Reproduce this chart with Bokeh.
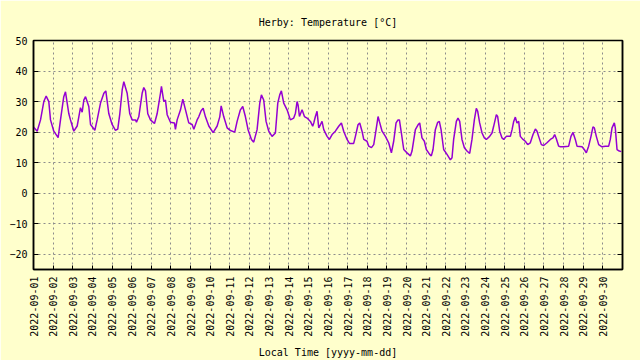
from datetime import datetime, timedelta
import calendar
from bokeh.plotting import figure
from bokeh.models import DatetimeTickFormatter, FixedTicker, LinearAxis
from bokeh.embed import file_html
from bokeh.resources import INLINE

START = datetime(2022, 9, 1)
N_DAYS = 30

# hours since 2022-09-01 00:00 local time
hours = [
    0, 4.5, 8.6, 12.6, 15.5, 18.7, 20.8, 24.8, 30.1,
    33, 37, 39.1, 43.2, 45.2, 49.3, 53.4,
    55.4, 57.4, 59.5, 61.5, 63.6, 67.6, 69.7, 75,
    77.8, 81.9, 86, 88.4, 92.1, 96.1, 100.2, 103,
    105.5, 108.4, 110.4, 114.5, 117.7, 120.6, 124.7, 125.9,
    128.7, 132.8, 134.8, 136.9, 139.7, 143, 147.9,
    151.1, 155.2, 156.4, 159.3, 161.3, 163.4, 167.4, 172.3, 173.5,
    175.6, 179.7, 182.5, 185.8, 189.8, 193.9, 196,
    200, 202, 204.9, 207.4, 210.2, 214.3, 219.6,
    224.5, 227.7, 229.4, 232.6, 236.7, 240.8,
    246, 248.9, 252.9, 255.8, 259, 262.3, 266.4, 269.2,
    273.3, 276.6, 278.6, 281.4, 284.3, 287.6, 291.6,
    295.7, 298.6, 301, 303, 305.9, 310, 314, 318.1, 320.2, 322.2, 323.4,
    325.1, 328.3, 331.2, 334.4, 338.5, 341.3, 342.6, 344.6, 346.6, 348.7,
    350.7, 352.7, 354.8, 358.9, 361.7, 365, 369, 373.1, 376.4, 379.2,
    383.3, 386.2, 391.4, 393.5, 396.7, 398.8, 401.6, 403.7, 407.7, 409.8,
    413.1, 415.9, 418.8, 421.2, 422.8, 426.1, 430.2, 434.2, 437.5, 440.3,
    443.2, 445.6, 447.3, 449.7, 452.6, 456.6, 460.7, 462.7, 466.8, 470.1,
    472.1, 474.9, 477.8, 480.2, 484.3, 486.3, 488.4, 491.2, 494.1, 496.1,
    498.2, 501.4, 505.5, 509.6, 511.6, 513.6, 516.9, 518.9, 521, 523.8,
    526.7, 529.9, 533.2, 536, 538.9, 541.3, 543, 545.4, 548.3, 551.1,
    553.6, 557.6, 560.5, 562.5, 565.8, 567.4, 569.9, 572.7, 574.8, 578,
    582.9, 585, 587, 589, 591, 593.1, 595.1, 598.4, 601.2, 604.1,
    607.3, 610.6, 613.5, 615.5, 617.5, 620.8, 623.6, 627.7, 631.8, 635,
    637.1, 639.1, 642, 644, 648.1, 654.2, 657, 659.5, 662.3, 664.4,
    670.5, 673.3, 675.8, 678.6, 681.5, 683.9, 685.6, 688, 690.9, 694.9,
    699, 703.1, 705.1, 707.2, 710, 711.2, 713.3, 716.1, 718.5,
]

# temperature [°C]
temps = [
    21.7, 20.3, 24, 30, 31.8, 30, 24, 20.3, 18.2,
    24, 31.6, 33.2, 26, 24, 20.3, 22,
    25, 28, 26.5, 30.5, 31.6, 28.4, 22.5, 20.6,
    24, 29.5, 32.7, 33.5, 26, 22.5, 20.6, 21,
    26, 33.8, 36.5, 32.7, 26, 24, 24, 23.2,
    25, 32.7, 34.6, 33.5, 26, 24, 22.8,
    26, 32.7, 35, 30, 30.5, 25.7, 23.2, 23, 20.9,
    24, 27.3, 30.8, 27.3, 23, 22.5, 20.9,
    24, 25, 27, 27.8, 25, 22, 19.8,
    22, 25, 28.6, 25, 21.4, 20.5,
    20, 23.5, 27.3, 28.4, 25.1, 20.8, 17.6, 16.7,
    20.8, 29.5, 32.2, 30.5, 23.5, 20.3, 18.6,
    19.7, 29.5, 32.2, 33.5, 29.5, 27.3, 24, 24.6, 26.2, 30, 28.9,
    25.1, 27.3, 25.1, 24.6, 23.5, 21.9, 23, 25.1, 26.8, 21.4,
    22.4, 23.5, 20.8, 18.6, 17.6, 19.2, 20.3, 21.9, 23, 20.3,
    17.6, 16.3, 16.3, 18.6, 22.4, 23, 20.3, 17.6, 17, 15.4,
    14.9, 15.9, 20.8, 25.1, 23.5, 20.3, 18.6, 16.5, 13.2, 17,
    23, 24, 24, 19.7, 14.3, 13.2, 12.2, 13.8, 20.8, 22.4,
    23, 18.1, 17, 14.3, 12.7, 12.2, 14.3, 20.8, 23.2, 23.5,
    20.8, 14.3, 12.7, 10.9, 11.6, 17.6, 23.5, 24.6, 23.5, 17.6,
    14.9, 13.8, 13, 17.6, 24, 27.8, 26.8, 23, 19.7, 18.1,
    17.6, 18.6, 19.7, 21.9, 25.7, 25.1, 20.3, 18.1, 17.6, 18.6,
    18.6, 20.8, 23.5, 24.9, 23, 23.5, 18.6, 17.6, 17, 15.9,
    16.5, 19.2, 21, 20.3, 18.6, 15.9, 15.6, 16.5, 17.6, 18.1,
    19.2, 17.8, 15.4, 15.2, 15.2, 15.4, 18.6, 19.9, 17.6, 15.4,
    15.2, 14.3, 13.2, 15.4, 18.6, 21.7, 21.4, 18.6, 15.9, 15.2,
    15.4, 15.4, 17.6, 21.4, 23, 21.4, 14.3, 13.8, 13.6,
]

y_ticks = [-20, -10, 0, 10, 20, 30, 40, 50]
title_text = "Herby: Temperature [°C]"
x_label = "Local Time [yyyy-mm-dd]"

times = [START + timedelta(hours=h) for h in hours]
day_ticks = [calendar.timegm((START + timedelta(days=i)).timetuple()) * 1000 for i in range(N_DAYS)]

BG = "#ffffcc"
FONT = "DejaVu Sans Mono"

p = figure(width=640, height=360, x_axis_type="datetime",
           x_range=(START, START + timedelta(days=N_DAYS)), y_range=(-25, 50),
           output_backend="svg", toolbar_location=None, title=title_text,
           min_border_left=33, min_border_right=18, min_border_top=40, min_border_bottom=89)

p.background_fill_color = BG
p.border_fill_color = BG
p.outline_line_color = "black"
p.outline_line_width = 1.5

p.title.text_font = FONT
p.title.text_font_size = "10px"
p.title.text_font_style = "normal"
p.title.text_color = "black"
p.title.align = "center"
p.title.standoff = 26

p.line(times, temps, line_color="#9400d3", line_width=1.5)

xa = p.xaxis[0]
xa.ticker = FixedTicker(ticks=day_ticks)
xa.formatter = DatetimeTickFormatter(days="%Y-%m-%d", months="%Y-%m-%d", hours="%Y-%m-%d")
xa.major_label_orientation = 1.5707963
xa.major_label_text_font = FONT
xa.major_label_text_font_size = "10px"
xa.major_label_text_color = "black"
xa.major_label_standoff = 7
xa.major_tick_in = 4
xa.major_tick_out = 0
xa.minor_tick_in = 0
xa.minor_tick_out = 0
xa.axis_line_color = "black"
xa.axis_line_width = 1.5
xa.axis_label = x_label
xa.axis_label_text_font = FONT
xa.axis_label_text_font_size = "10px"
xa.axis_label_text_font_style = "normal"
xa.axis_label_text_color = "black"
xa.axis_label_standoff = 7

ya = p.yaxis[0]
ya.ticker = FixedTicker(ticks=y_ticks)
ya.major_label_text_font = FONT
ya.major_label_text_font_size = "10px"
ya.major_label_text_color = "black"
ya.major_label_standoff = 6
ya.major_tick_in = 5
ya.major_tick_out = 0
ya.minor_tick_in = 0
ya.minor_tick_out = 0
ya.axis_line_color = "black"
ya.axis_line_width = 1.5

ra = LinearAxis(ticker=FixedTicker(ticks=y_ticks),
                major_label_overrides={t: "" for t in y_ticks},
                major_tick_in=5, major_tick_out=0, minor_tick_in=0, minor_tick_out=0,
                axis_line_color="black", axis_line_width=1.5, major_label_standoff=0)
p.add_layout(ra, "right")

p.xgrid.ticker = FixedTicker(ticks=day_ticks)
p.ygrid.ticker = FixedTicker(ticks=y_ticks)
for g in (p.xgrid, p.ygrid):
    g.grid_line_color = "#8c8c8c"
    g.grid_line_dash = "2 3"
    g.grid_line_width = 1

open("out.html", "w").write(file_html(p, INLINE))
